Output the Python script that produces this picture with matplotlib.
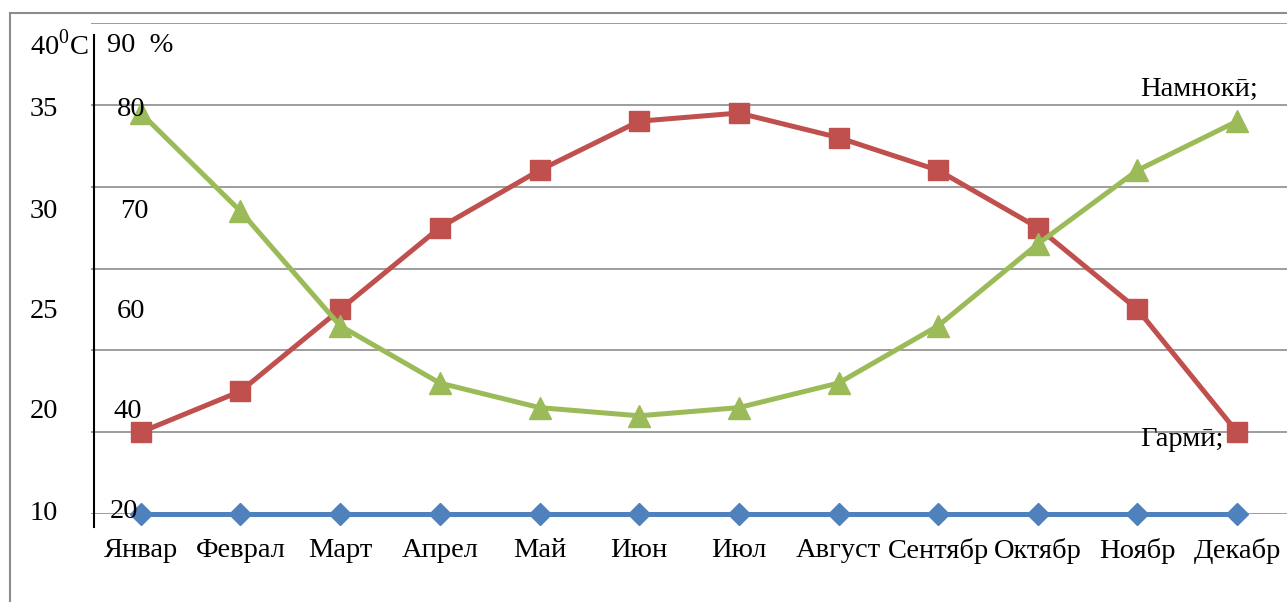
import matplotlib.pyplot as plt
from matplotlib.lines import Line2D

plt.rcParams['font.family'] = ['Liberation Serif', 'DejaVu Serif']
plt.rcParams['mathtext.fontset'] = 'custom'
plt.rcParams['mathtext.rm'] = 'Liberation Serif'

# Данные
months = ['Январ', 'Феврал', 'Март', 'Апрел', 'Май', 'Июн',
          'Июл', 'Август', 'Сентябр', 'Октябр', 'Ноябр', 'Декабр']
base = [0] * 12
garmi = [10, 15, 25, 35, 42, 48, 49, 46, 42, 35, 25, 10]
namnoki = [49, 37, 23, 16, 13, 12, 13, 16, 23, 33, 42, 48]

W, H = 1287, 602
fig = plt.figure(figsize=(W / 100, H / 100), dpi=100)


def px(x, y):
    return x / W, 1 - y / H


left, bottom = px(91, 514)
right, top = px(1287, 23)
ax = fig.add_axes([left, bottom, right - left, top - bottom])

x = range(len(months))
ax.plot(x, base, color='#4F81BD', lw=3.6, marker='D', ms=11, zorder=3,
        clip_on=False)
ax.plot(x, garmi, color='#C0504D', lw=3.6, marker='s', ms=14, zorder=4,
        clip_on=False)
ax.plot(x, namnoki, color='#9BBB59', lw=3.6, marker='^', ms=16, zorder=5,
        clip_on=False)

ax.set_xlim(-0.5, 11.5)
ax.set_ylim(0, 60)
ax.set_yticks(range(0, 61, 10))
ax.set_yticklabels([])
ax.tick_params(axis='y', length=0)
ax.set_xticks(list(x))
ax.set_xticklabels(months, fontsize=20.5)
ax.tick_params(axis='x', length=0, pad=17)
ax.grid(axis='y', color='#8c8c8c', lw=1.2)
ax.set_axisbelow(True)
for s in ax.spines.values():
    s.set_visible(False)

# рамка и вертикальная ось
fig.add_artist(Line2D([px(10, 0)[0]] * 2, [px(0, 13)[1], 0],
                      color='#8c8c8c', lw=1.5))
fig.add_artist(Line2D([px(10, 0)[0], 1], [px(0, 13)[1]] * 2,
                      color='#8c8c8c', lw=1.5))
fig.add_artist(Line2D([px(94, 0)[0]] * 2, [px(0, 35)[1], px(0, 527)[1]],
                      color='black', lw=1.5))

# подписи шкал
fs = 20.5
labels = [
    (30, 45, r'40$^{\mathrm{0}}$C'), (107, 45, '90  %'),
    (30, 109, '35'), (117, 109, '80'),
    (30, 211, '30'), (120, 211, '70'),
    (30, 311, '25'), (117, 311, '60'),
    (30, 411, '20'), (113, 411, '40'),
    (30, 514, '10'), (110, 512, '20'),
    (1140, 89, 'Намнокӣ;'), (1140, 440, 'Гармӣ;'),
]
for lx, ly, t in labels:
    fx, fy = px(lx, ly)
    fig.text(fx, fy, t, fontsize=fs, ha='left', va='center', zorder=6)

plt.savefig('out.png', dpi=100)
